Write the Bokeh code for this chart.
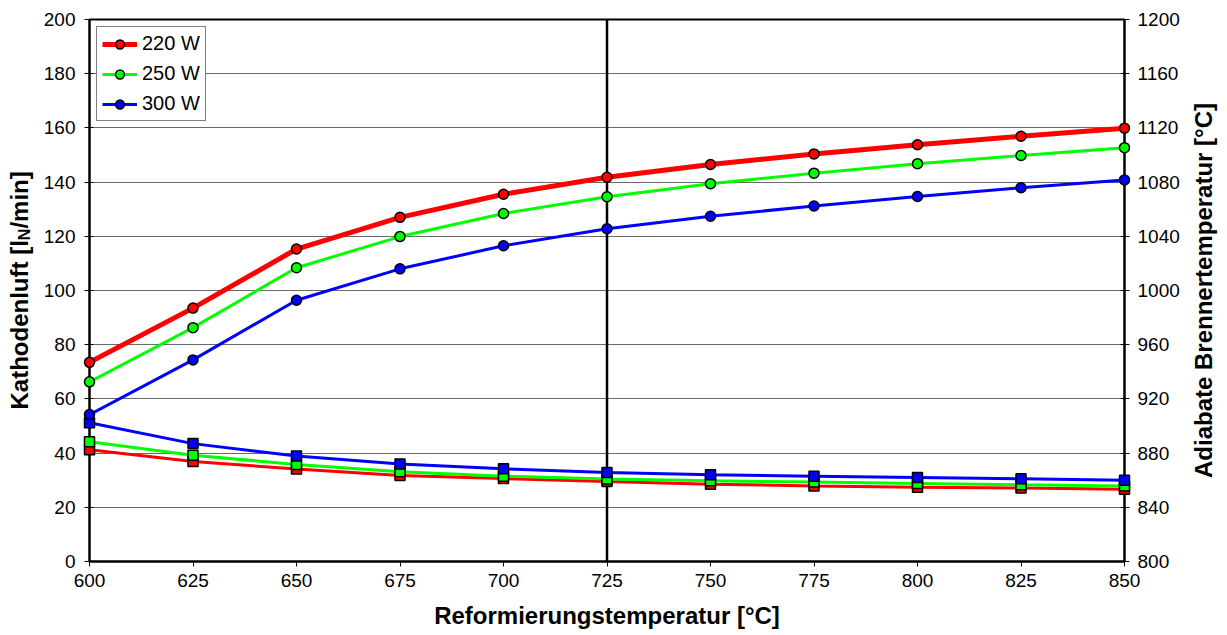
import math

from bokeh.plotting import figure
from bokeh.models import (Range1d, LinearAxis, FixedTicker, Span,
                          Legend, LegendItem)
from bokeh.core.properties import value
from bokeh.embed import file_html
from bokeh.resources import INLINE

# Reforming temperature [°C]
reform_temp = [600, 625, 650, 675, 700, 725, 750, 775, 800, 825, 850]

# Cathode air flow [l_N/min] (left axis)
air_220 = [73.5, 93.5, 115.3, 127.0, 135.5, 141.8, 146.5, 150.4, 153.8, 156.9, 159.9]
air_250 = [66.3, 86.3, 108.4, 119.9, 128.4, 134.6, 139.4, 143.3, 146.8, 149.8, 152.7]
air_300 = [54.2, 74.4, 96.4, 108.0, 116.5, 122.8, 127.4, 131.2, 134.7, 137.9, 140.8]

# Adiabatic burner temperature [°C] (right axis)
burner_220 = [882.4, 873.8, 868.2, 863.4, 861.2, 859.0, 857.0, 855.8, 854.8, 854.2, 853.4]
burner_250 = [888.4, 878.4, 871.6, 866.2, 863.0, 860.8, 859.6, 858.6, 857.6, 856.6, 855.8]
burner_300 = [902.4, 887.0, 877.8, 872.0, 868.4, 865.6, 864.0, 863.0, 862.0, 861.0, 860.0]

series_labels = ["220 W", "250 W", "300 W"]
series_colors = ["#FF0000", "#00FF00", "#0000FF"]

x_ticks = [600, 625, 650, 675, 700, 725, 750, 775, 800, 825, 850]
left_ticks = [0, 20, 40, 60, 80, 100, 120, 140, 160, 180, 200]
right_ticks = [800, 840, 880, 920, 960, 1000, 1040, 1080, 1120, 1160, 1200]
marker_temp = 725

x_title = "Reformierungstemperatur [°C]"
left_title_parts = ["Kathodenluft [l", "N", "/min]"]
right_title = "Adiabate Brennertemperatur [°C]"

FONT = "Liberation Sans"
TICK_SIZE = "19px"

p = figure(width=1227, height=635, output_backend="svg", toolbar_location=None,
           x_range=Range1d(600, 850), y_range=Range1d(0, 200),
           min_border_left=89, min_border_right=103,
           min_border_top=19, min_border_bottom=74)
p.extra_y_ranges = {"temp": Range1d(800, 1200)}

p.outline_line_color = "black"
p.outline_line_width = 2
p.background_fill_color = "white"
p.border_fill_color = "white"

# grid: horizontal lines only
p.xgrid.visible = False
p.ygrid.ticker = FixedTicker(ticks=left_ticks)
p.ygrid.grid_line_color = "#6a6a6a"
p.ygrid.grid_line_width = 1


def style_axis(ax, tick_in):
    ax.major_label_text_font = FONT
    ax.major_label_text_font_size = TICK_SIZE
    ax.major_label_text_color = "black"
    ax.major_tick_in = tick_in
    ax.major_tick_out = 5
    ax.minor_tick_line_color = None
    ax.axis_line_width = 2
    ax.axis_line_color = "black"
    ax.major_tick_line_color = "black"


# bottom axis
xa = p.xaxis[0]
xa.ticker = FixedTicker(ticks=x_ticks)
style_axis(xa, 0)
xa.major_label_standoff = 7
xa.axis_label = x_title
xa.axis_label_text_font = FONT
xa.axis_label_text_font_style = "bold"
xa.axis_label_text_font_size = "24px"
xa.axis_label_text_color = "black"
xa.axis_label_standoff = 12

# left axis
ya = p.yaxis[0]
ya.ticker = FixedTicker(ticks=left_ticks)
style_axis(ya, 4)
ya.major_label_standoff = 9

# right axis
ra = LinearAxis(y_range_name="temp", ticker=FixedTicker(ticks=right_ticks))
style_axis(ra, 4)
ra.major_label_standoff = 8
p.add_layout(ra, "right")

# vertical marker line at the design reforming temperature
p.add_layout(Span(location=marker_temp, dimension="height",
                  line_color="black", line_width=2.5))

# burner temperature curves (squares, right axis)
for vals, col in zip([burner_220, burner_250, burner_300], series_colors):
    p.line(reform_temp, vals, y_range_name="temp", line_color=col, line_width=3)
    p.scatter(reform_temp, vals, y_range_name="temp", marker="square", size=10,
              fill_color=col, line_color="black", line_width=1.5, level="overlay")

# cathode air curves (circles, left axis)
legend_items = []
for vals, col, lab, lw in zip([air_220, air_250, air_300], series_colors,
                              series_labels, [5, 3, 3]):
    lr = p.line(reform_temp, vals, line_color=col, line_width=lw)
    cr = p.scatter(reform_temp, vals, marker="circle", size=10,
                   fill_color=col, line_color="black", line_width=1.5, level="overlay")
    legend_items.append(LegendItem(label=lab, renderers=[lr, cr]))

legend = Legend(items=legend_items, location="top_left")
legend.margin = 7
legend.padding = 5
legend.spacing = 7
legend.glyph_width = 35
legend.glyph_height = 22
legend.label_height = 22
legend.label_standoff = 5
legend.label_text_font = FONT
legend.label_text_font_size = "20px"
legend.label_text_color = "black"
legend.border_line_color = "black"
legend.border_line_width = 1
legend.background_fill_color = "white"
legend.background_fill_alpha = 1
p.add_layout(legend)


def rotated_title(x, y, txt, size, dx, dy, align="left"):
    """Bold vertical text (reading bottom to top) offset in pixels from (x, y)."""
    p.text(x=[x], y=[y], text=[txt], angle=math.pi / 2,
           x_offset=dx, y_offset=dy,
           text_font=value(FONT), text_font_style=value("bold"),
           text_font_size=value(size), text_color="black",
           text_align=align, text_baseline="alphabetic", level="overlay")


# left title "Kathodenluft [l_N/min]" built from three pieces (subscript N)
start = 152
w_main = 169.3
w_sub = 11.6
rotated_title(600, 0, left_title_parts[0], "24px", -70, -start)
rotated_title(600, 0, left_title_parts[1], "16px", -65, -(start + w_main))
rotated_title(600, 0, left_title_parts[2], "24px", -70, -(start + w_main + w_sub))

# right title
rotated_title(850, 0, right_title, "24px", 79, -271, align="center")

open("out.html", "w").write(file_html(p, INLINE))
